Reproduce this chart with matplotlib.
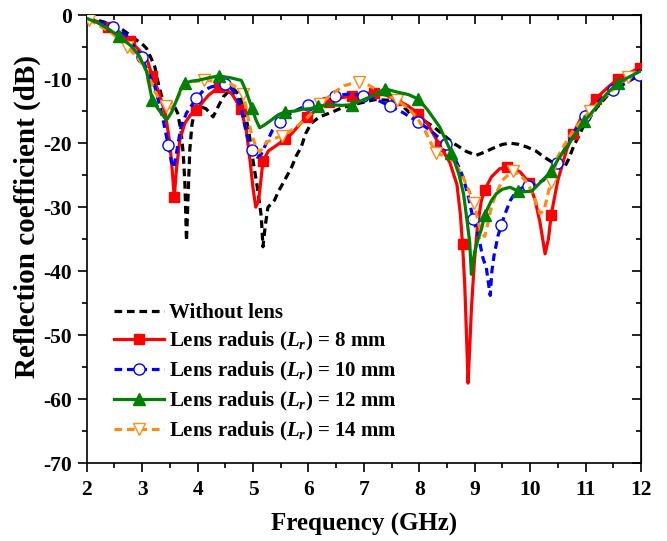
import numpy as np
import matplotlib
matplotlib.use("Agg")
import matplotlib.pyplot as plt
from matplotlib.ticker import MultipleLocator

plt.rcParams['font.family'] = ['Liberation Serif', 'DejaVu Serif']
plt.rcParams['font.weight'] = 'bold'
plt.rcParams['mathtext.fontset'] = 'custom'
plt.rcParams['mathtext.rm'] = 'Liberation Serif:bold'
plt.rcParams['mathtext.it'] = 'Liberation Serif:italic:bold'
plt.rcParams['axes.unicode_minus'] = False

# ---- data (frequency in GHz, reflection coefficient in dB) ----
f_none = [2.0, 2.2, 2.4, 2.6, 2.7, 2.85, 3.0, 3.08, 3.15, 3.23, 3.3, 3.35, 3.42, 3.5, 3.58,
          3.64, 3.7, 3.74, 3.77, 3.79, 3.8, 3.83, 3.86, 3.9, 3.95, 4.04, 4.15, 4.28, 4.36,
          4.46, 4.55, 4.65, 4.75, 4.85, 4.93, 5.0, 5.08, 5.15, 5.18, 5.22, 5.27, 5.33, 5.39,
          5.46, 5.54, 5.62, 5.7, 5.78, 5.87, 5.95, 6.05, 6.2, 6.44, 6.6, 6.8, 7.0, 7.2, 7.47,
          7.65, 7.83, 8.05, 8.25, 8.45, 8.61, 8.67, 8.85, 9.03, 9.18, 9.33, 9.5, 9.64, 9.8,
          9.94, 10.1, 10.24, 10.42, 10.55, 10.62, 10.7, 10.78, 10.96, 11.2, 11.5, 11.8, 12.0]
s_none = [-0.5, -0.8, -1.3, -2.0, -2.6, -3.6, -4.5, -5.2, -6.5, -8.1, -11.0, -12.6, -13.5,
          -13.6, -14.2, -15.3, -18.0, -21.5, -26.0, -32.0, -35.3, -28.0, -21.0, -17.0, -15.0,
          -14.3, -14.6, -15.9, -14.5, -12.8, -12.0, -11.5, -12.5, -15.0, -18.5, -22.7, -27.0,
          -31.5, -36.2, -33.0, -30.0, -29.5, -28.9, -27.5, -26.3, -25.0, -23.7, -22.0, -20.6,
          -18.5, -16.9, -15.9, -15.1, -14.5, -14.0, -13.6, -13.2, -13.3, -13.8, -15.3, -16.3,
          -17.4, -18.8, -20.0, -20.3, -21.3, -21.9, -21.4, -20.8, -20.2, -20.0, -20.2, -20.6,
          -21.2, -22.1, -23.1, -24.0, -23.8, -22.4, -20.6, -17.4, -14.5, -11.5, -9.5, -8.5]

f_8 = [2.0, 2.2, 2.38, 2.6, 2.78, 2.95, 3.1, 3.18, 3.3, 3.42, 3.5, 3.55, 3.58, 3.62, 3.68,
       3.77, 3.88, 3.98, 4.1, 4.2, 4.38, 4.5, 4.62, 4.78, 4.88, 4.95, 5.0, 5.05, 5.1, 5.14,
       5.18, 5.28, 5.4, 5.58, 5.7, 5.85, 5.98, 6.15, 6.38, 6.55, 6.78, 7.0, 7.18, 7.4, 7.58,
       7.8, 7.98, 8.15, 8.38, 8.55, 8.68, 8.74, 8.78, 8.82, 8.86, 8.88, 8.91, 8.94, 8.99,
       9.05, 9.12, 9.18, 9.3, 9.45, 9.58, 9.7, 9.82, 9.98, 10.09, 10.18, 10.27, 10.33, 10.38,
       10.5, 10.66, 10.78, 10.9, 11.18, 11.4, 11.58, 11.8, 11.98, 12.0]
s_8 = [-0.5, -1.0, -1.8, -2.8, -4.0, -5.5, -7.2, -9.5, -12.0, -15.5, -20.0, -25.0, -28.4,
       -24.0, -19.5, -16.9, -15.5, -14.8, -13.5, -12.5, -11.3, -11.6, -12.3, -14.6, -18.0,
       -23.0, -27.0, -30.0, -29.0, -26.0, -22.8, -21.2, -20.5, -19.4, -18.5, -17.0, -15.9,
       -14.8, -13.5, -13.0, -12.6, -12.3, -12.1, -12.5, -13.2, -14.2, -15.4, -17.0, -20.5,
       -23.0, -26.5, -31.0, -35.8, -42.0, -52.0, -57.5, -52.0, -46.0, -39.0, -33.0, -29.0,
       -27.3, -25.3, -24.0, -23.8, -24.0, -24.5, -26.2, -28.9, -32.5, -37.3, -35.0, -31.2,
       -25.8, -21.0, -18.5, -16.4, -13.1, -11.3, -10.0, -9.0, -8.2, -8.1]
m_8 = [2.38, 2.78, 3.18, 3.58, 3.98, 4.38, 4.78, 5.18, 5.58, 5.98, 6.38, 6.78, 7.18, 7.58,
       7.98, 8.38, 8.78, 9.18, 9.58, 9.98, 10.38, 10.78, 11.18, 11.58, 11.98]

f_10 = [2.0, 2.2, 2.47, 2.7, 2.99, 3.1, 3.23, 3.37, 3.47, 3.53, 3.57, 3.62, 3.7, 3.8, 3.98,
        4.1, 4.25, 4.49, 4.6, 4.7, 4.8, 4.88, 4.98, 5.08, 5.15, 5.24, 5.35, 5.48, 5.6, 5.75,
        5.99, 6.2, 6.48, 6.75, 6.98, 7.23, 7.47, 7.7, 7.98, 8.2, 8.49, 8.65, 8.79, 8.89, 8.97,
        9.05, 9.09, 9.15, 9.21, 9.25, 9.28, 9.31, 9.35, 9.42, 9.48, 9.55, 9.64, 9.75, 9.85,
        9.97, 10.1, 10.24, 10.35, 10.48, 10.6, 10.72, 10.85, 10.99, 11.26, 11.5, 11.75, 11.96,
        12.0]
s_10 = [-0.6, -1.0, -1.8, -3.0, -6.6, -8.8, -11.2, -16.0, -20.3, -23.0, -23.8, -21.5, -17.5,
        -15.3, -13.0, -11.8, -11.2, -10.8, -11.4, -12.6, -15.0, -18.5, -21.1, -22.2, -21.7,
        -20.0, -18.0, -16.7, -15.8, -15.0, -14.0, -13.3, -12.6, -12.3, -12.6, -13.2, -14.2,
        -15.2, -16.7, -18.0, -20.2, -22.5, -25.3, -28.5, -31.8, -34.0, -35.5, -38.0, -39.5,
        -42.0, -43.8, -40.0, -37.5, -34.5, -32.8, -31.0, -29.0, -27.5, -27.0, -26.7, -26.4,
        -25.8, -24.6, -23.1, -21.3, -19.5, -17.5, -15.7, -13.3, -11.7, -10.5, -9.4, -9.2]
m_10 = [2.47, 2.99, 3.47, 3.98, 4.49, 4.98, 5.48, 5.99, 6.48, 6.98, 7.47, 7.98, 8.49, 8.97,
        9.48, 9.97, 10.48, 10.99, 11.5, 11.96]

f_12 = [2.0, 2.2, 2.4, 2.58, 2.8, 2.95, 3.08, 3.13, 3.18, 3.3, 3.44, 3.53, 3.62, 3.7, 3.78,
        3.9, 4.0, 4.2, 4.38, 4.6, 4.79, 4.88, 4.98, 5.05, 5.12, 5.2, 5.33, 5.45, 5.58, 5.75,
        5.9, 6.05, 6.18, 6.4, 6.6, 6.78, 7.0, 7.16, 7.38, 7.59, 7.8, 7.98, 8.15, 8.37, 8.58,
        8.72, 8.8, 8.86, 8.91, 8.94, 8.97, 9.0, 9.06, 9.12, 9.18, 9.3, 9.39, 9.5, 9.64, 9.78,
        9.9, 10.03, 10.2, 10.38, 10.5, 10.66, 10.8, 10.98, 11.2, 11.38, 11.58, 11.8, 12.0]
s_12 = [-0.5, -1.2, -2.2, -3.3, -4.8, -6.4, -8.8, -11.0, -13.2, -14.8, -16.4, -15.2, -13.3,
        -11.5, -10.6, -10.3, -10.2, -9.8, -9.5, -9.8, -10.2, -12.0, -14.5, -16.3, -17.6,
        -17.2, -16.4, -15.6, -15.1, -15.0, -14.7, -14.6, -14.2, -14.0, -14.1, -14.0, -13.2,
        -12.6, -11.5, -12.0, -12.4, -13.1, -14.8, -17.5, -21.5, -25.0, -28.0, -32.0, -35.5,
        -40.5, -38.5, -37.0, -35.0, -33.5, -31.2, -29.0, -27.9, -27.2, -26.9, -27.5, -27.6,
        -27.5, -26.0, -24.4, -22.6, -20.6, -18.8, -16.6, -14.3, -12.3, -10.6, -9.6, -8.7]
m_12 = [2.58, 3.18, 3.78, 4.38, 4.98, 5.58, 6.18, 6.78, 7.38, 7.98, 8.58, 9.18, 9.78, 10.38,
        10.98, 11.58]

f_14 = [2.04, 2.2, 2.45, 2.735, 2.95, 3.1, 3.2, 3.3, 3.43, 3.5, 3.58, 3.68, 3.77, 3.9, 4.125,
        4.3, 4.5, 4.65, 4.82, 4.9, 4.97, 5.05, 5.12, 5.24, 5.38, 5.515, 5.69, 5.85, 5.98, 6.21,
        6.44, 6.65, 6.905, 7.1, 7.29, 7.45, 7.6, 7.8, 7.95, 8.1, 8.295, 8.45, 8.55, 8.68, 8.79,
        8.9, 8.99, 9.07, 9.12, 9.18, 9.24, 9.3, 9.38, 9.5, 9.685, 9.82, 9.96, 10.09, 10.18,
        10.25, 10.32, 10.38, 10.5, 10.65, 10.78, 11.075, 11.38, 11.6, 11.77, 12.0]
s_14 = [-0.7, -1.5, -2.8, -4.9, -7.0, -9.0, -11.5, -13.0, -14.2, -14.8, -14.0, -12.3, -10.9,
        -10.4, -10.2, -10.3, -10.4, -11.0, -12.3, -15.5, -18.5, -20.5, -21.4, -19.9, -19.3,
        -18.9, -18.0, -17.0, -16.0, -13.9, -12.2, -11.0, -10.4, -11.0, -12.0, -12.6, -13.2,
        -14.6, -15.9, -18.0, -21.5, -22.0, -22.3, -23.6, -25.3, -27.5, -29.4, -32.5, -34.0,
        -34.6, -32.5, -30.0, -28.0, -25.8, -24.3, -25.0, -26.3, -28.9, -31.0, -30.5, -28.0,
        -26.0, -22.1, -19.8, -18.0, -15.0, -12.5, -10.8, -9.6, -8.6]
m_14 = [2.04, 2.735, 3.43, 4.125, 4.82, 5.515, 6.21, 6.905, 7.6, 8.295, 8.99, 9.685, 10.38,
        11.075, 11.77]

labels = ["Without lens",
          r"Lens raduis ($L_r$) = 8 mm",
          r"Lens raduis ($L_r$) = 10 mm",
          r"Lens raduis ($L_r$) = 12 mm",
          r"Lens raduis ($L_r$) = 14 mm"]


def mark_idx(freqs, marks):
    # pick the samples of the curve that carry a marker
    freqs = np.asarray(freqs)
    return [int(np.argmin(np.abs(freqs - m))) for m in marks]


fig = plt.figure(figsize=(6.67, 5.41), dpi=100)
ax = fig.add_axes([0.130, 0.144, 0.831, 0.828])

dash = (0, (2.4, 1.5))
ax.plot(f_none, s_none, color='black', lw=2.3, linestyle=dash, label=labels[0], zorder=2)
ax.plot(f_8, s_8, color='#ff0000', lw=2.3, marker='s', ms=7,
        markevery=mark_idx(f_8, m_8), label=labels[1], zorder=3)
ax.plot(f_10, s_10, color='#0000ff', lw=2.3, linestyle=dash, marker='o', ms=8,
        mfc='white', mec='#0000ff', mew=1.0,
        markevery=mark_idx(f_10, m_10), label=labels[2], zorder=3)
ax.plot(f_12, s_12, color='#008000', lw=2.3, marker='^', ms=8,
        markevery=mark_idx(f_12, m_12), label=labels[3], zorder=4)
ax.plot(f_14, s_14, color='#ff8c1a', lw=2.3, linestyle=dash, marker='v', ms=9,
        mfc='white', mec='#ff8c1a', mew=1.0,
        markevery=mark_idx(f_14, m_14), label=labels[4], zorder=3)

ax.set_xlim(2, 12)
ax.set_ylim(-70, 0)
ax.xaxis.set_major_locator(MultipleLocator(1))
ax.xaxis.set_minor_locator(MultipleLocator(0.5))
ax.yaxis.set_major_locator(MultipleLocator(10))
ax.yaxis.set_minor_locator(MultipleLocator(5))
ax.tick_params(which='major', direction='out', length=6.5, width=1.2, labelsize=15.5)
ax.tick_params(axis='x', which='major', pad=6)
ax.tick_params(axis='y', which='major', pad=4)
ax.tick_params(which='minor', direction='out', length=3.5, width=1.2)
for sp in ax.spines.values():
    sp.set_linewidth(1.2)

# mirrored ticks on top and right, pointing inwards
top = ax.secondary_xaxis('top')
top.xaxis.set_major_locator(MultipleLocator(1))
top.xaxis.set_minor_locator(MultipleLocator(0.5))
top.tick_params(which='major', direction='in', length=6.5, width=1.2, labeltop=False)
top.tick_params(which='minor', direction='in', length=3.5, width=1.2)
right = ax.secondary_yaxis('right')
right.yaxis.set_major_locator(MultipleLocator(10))
right.yaxis.set_minor_locator(MultipleLocator(5))
right.tick_params(which='major', direction='in', length=6.5, width=1.2, labelright=False)
right.tick_params(which='minor', direction='in', length=3.5, width=1.2)

ax.set_xlabel("Frequency (GHz)", fontsize=18, fontweight='bold', labelpad=9)
ax.set_ylabel("Reflection coefficient (dB)", fontsize=21, fontweight='bold')
ax.yaxis.set_label_coords(-0.082, 0.55)

ax.legend(loc='lower left', bbox_to_anchor=(0.03, 0.022), frameon=False, fontsize=15,
          handlelength=2.4, handletextpad=0.25, labelspacing=0.33, borderpad=0.3,
          borderaxespad=0.2)

fig.savefig("out.png", dpi=100)
